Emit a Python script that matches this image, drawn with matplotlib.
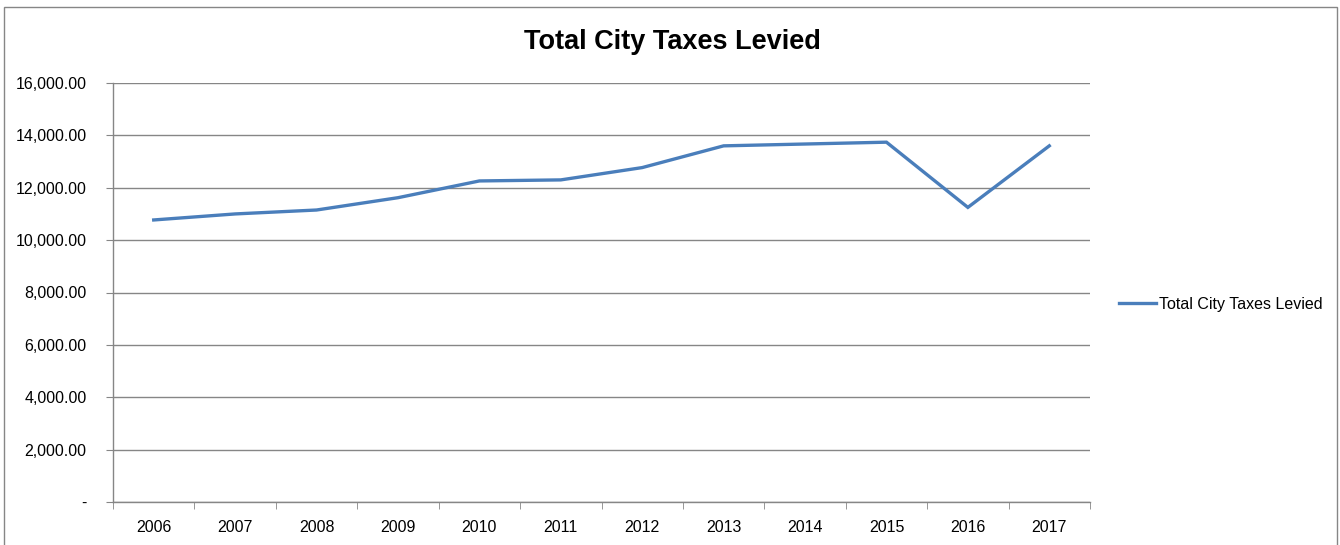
import matplotlib.pyplot as plt
from matplotlib.patches import Rectangle
from matplotlib.ticker import FuncFormatter

years = ["2006", "2007", "2008", "2009", "2010", "2011",
         "2012", "2013", "2014", "2015", "2016", "2017"]
taxes_levied = [10770, 11000, 11150, 11620, 12260, 12300,
                12770, 13600, 13670, 13740, 11250, 13600]
series_name = "Total City Taxes Levied"


def money(v, _pos):
    if v == 0:
        return "-"
    return f"{v:,.2f}"


def main() -> None:
    plt.rcParams.update({"font.family": ["Liberation Sans", "DejaVu Sans"], "font.size": 11.5})
    fig = plt.figure(figsize=(13.4, 5.45), dpi=100)
    W, H = 1340, 545
    ax = fig.add_axes([113 / W, 1 - 502 / H, (1090 - 113) / W, (502 - 83) / H])

    x = list(range(len(years)))
    ax.plot(x, taxes_levied, color="#4A7EBB", linewidth=2.4,
            solid_joinstyle="miter", label=series_name)

    ax.set_xlim(-0.5, len(years) - 0.5)
    ax.set_ylim(0, 16000)
    ax.set_yticks(range(0, 16001, 2000))
    ax.yaxis.set_major_formatter(FuncFormatter(money))
    ax.set_xticks(x)
    ax.set_xticklabels(years)
    ax.set_xticks([i - 0.5 for i in range(len(years) + 1)], minor=True)
    ax.tick_params(axis="x", which="major", length=0, pad=13)
    ax.tick_params(axis="x", which="minor", length=5, direction="out", color="#868686")
    ax.tick_params(axis="y", length=5, direction="out", color="#868686", pad=14)
    ax.grid(axis="y", color="#868686", linewidth=1.0)
    ax.set_axisbelow(True)
    for side in ("top", "right"):
        ax.spines[side].set_visible(False)
    for side in ("left", "bottom"):
        ax.spines[side].set_color("#868686")
        ax.spines[side].set_linewidth(1.0)

    fig.text(672 / W, 1 - 42 / H, "Total City Taxes Levied", ha="center", va="center",
             fontsize=19.5, fontweight="bold")

    handles, labels = ax.get_legend_handles_labels()
    fig.legend(handles, labels, loc="center left", bbox_to_anchor=(1113 / W, 1 - 304 / H),
               frameon=False, handlelength=2.3, handletextpad=0.15, borderaxespad=0, fontsize=11.5)

    fig.patches.append(Rectangle((4 / W, -0.05), (1337 - 4) / W, 1.05 - 7 / H,
                                 transform=fig.transFigure, fill=False,
                                 edgecolor="#868686", linewidth=1.0))

    fig.savefig("out.png", dpi=100)


if __name__ == "__main__":
    main()
